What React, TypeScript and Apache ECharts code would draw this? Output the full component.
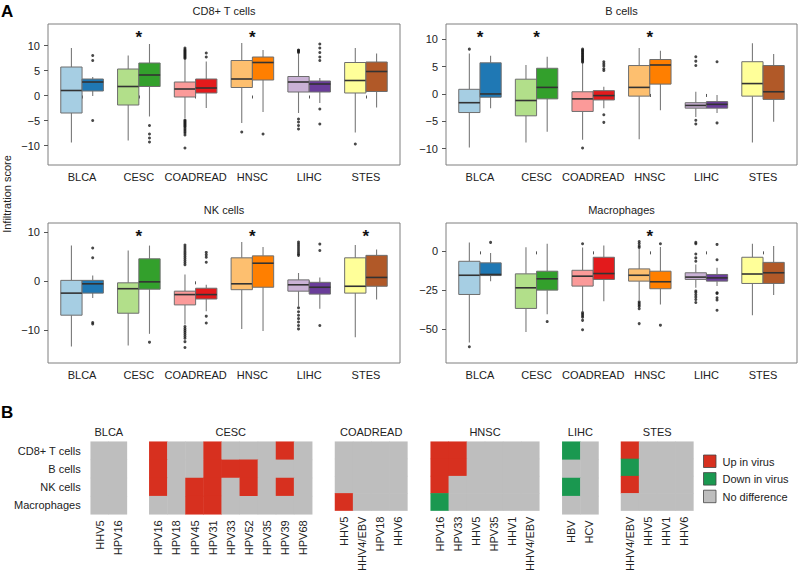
import React, { useEffect, useRef } from "react";
import * as echarts from "echarts";

const cancerTypes = ["BLCA", "CESC", "COADREAD", "HNSC", "LIHC", "STES"];
const negColors = ["#A6CEE3", "#B2DF8A", "#FB9A99", "#FDBF6F", "#CAB2D6", "#FFFF99"];
const posColors = ["#1F78B4", "#33A02C", "#E31A1C", "#FF7F00", "#6A3D9A", "#B15928"];

// box stats: [lowWhisker, Q1, median, Q3, highWhisker]
const cd8Neg = [
  [-9.4, -3.5, 1.0, 5.7, 9.5],
  [-9.0, -1.9, 1.8, 5.3, 8.0],
  [-4.5, -0.3, 1.3, 2.7, 7.1],
  [-5.5, 1.6, 3.3, 7.0, 10.5],
  [-3.5, 0.7, 2.7, 3.8, 8.3],
  [-7.4, 0.5, 3.0, 6.6, 9.5],
];
const cd8Pos = [
  [-0.1, 0.9, 2.7, 3.3, 3.7],
  [-4.2, 1.8, 4.1, 6.5, 10.3],
  [-2.5, 0.5, 1.5, 3.3, 6.8],
  [-3.3, 3.1, 6.6, 7.7, 9.1],
  [-1.5, 0.7, 2.3, 2.9, 3.5],
  [-2.4, 0.8, 4.8, 6.7, 8.4],
];
const cd8NegOut = [
  [],
  [],
  [7.4, 7.6, 7.8, 8.0, 8.2, 8.4, 8.6, 8.8, 9.0, 9.2, 9.5, -4.9, -5.1, -5.3, -5.5, -5.7, -5.9, -6.1, -6.3, -6.6, -6.9, -7.2, -7.5, -7.9, -10.5],
  [-7.3],
  [8.6, 8.8, 9.0, 9.1, -4.7, -5.3, -6.0, -6.7],
  [-9.7],
];
const cd8PosOut = [
  [8.0, 7.0, -5.0],
  [-6.0, -7.7, -8.5, -9.3],
  [8.5, 7.7],
  [-7.7],
  [10.3, 9.5, 8.6, 7.7, 7.0, -2.7, -5.7],
  [],
];

const bNeg = [
  [-9.8, -3.4, -1.6, 0.85, 7.4],
  [-8.9, -4.0, -1.2, 2.7, 5.3],
  [-8.4, -3.2, -0.9, 0.4, 5.6],
  [-8.3, -0.4, 1.2, 5.2, 8.4],
  [-4.2, -2.6, -2.1, -1.6, 0.4],
  [-8.9, -0.4, 1.9, 5.9, 9.3],
];
const bPos = [
  [-2.6, -0.6, 0.0, 5.7, 7.0],
  [-6.9, -0.9, 1.2, 4.7, 6.8],
  [-2.6, -1.1, -0.3, 0.6, 1.3],
  [-3.0, 1.8, 5.3, 6.3, 7.9],
  [-3.5, -2.6, -1.9, -1.4, -0.2],
  [-5.1, -1.0, 0.4, 5.2, 7.3],
];
const bNegOut = [
  [8.2],
  [],
  [5.8, 6.0, 6.2, 6.4, 6.6, 6.8, 7.0, 7.2, 7.4, 7.6, 7.8, 8.0, 8.2, -9.9],
  [],
  [6.8, 6.0, 5.2, -4.8, -5.5],
  [],
];
const bPosOut = [
  [],
  [],
  [5.9, 5.5, 5.1, 4.6, 4.3, -3.8, -5.2],
  [],
  [5.9, -5.3],
  [],
];

const nkNeg = [
  [-13.3, -6.9, -2.4, 0.2, 7.3],
  [-13.1, -6.5, -1.5, -0.3, 6.3],
  [-8.8, -4.8, -2.7, -2.0, 1.4],
  [-9.7, -1.7, -0.5, 4.8, 8.0],
  [-5.1, -2.0, -0.7, 0.3, 1.7],
  [-11.4, -2.4, -1.0, 4.8, 7.4],
];
const nkPos = [
  [-3.4, -2.4, -0.5, 0.2, 1.2],
  [-10.7, -1.6, -0.1, 4.6, 7.3],
  [-6.1, -3.6, -2.7, -1.4, -0.7],
  [-10.1, -1.2, 3.7, 5.2, 7.0],
  [-5.6, -2.6, -1.2, -0.2, 0.8],
  [-3.7, -1.0, 0.8, 5.3, 6.5],
];
const nkNegOut = [
  [],
  [],
  [3.4, 3.8, 4.2, 4.6, 5.0, 5.4, 5.8, 6.2, 6.6, 7.0, 7.4, -9.2, -9.6, -10.0, -10.4, -10.8, -11.2, -11.6, -12.3, -13.5],
  [],
  [8.0, 7.6, 7.2, 6.8, 6.4, 6.0, 5.6, 5.3, -5.4, -6.2, -6.9, -7.6, -8.3, -9.0, -9.7],
  [],
];
const nkPosOut = [
  [6.8, 4.8, -8.4, -8.7],
  [-12.4],
  [5.9, 5.4, 4.9, 3.9, -7.1, -8.5],
  [],
  [7.6, 6.3, -9.0],
  [],
];

const macNeg = [
  [-58.7, -27.8, -15.4, -6.4, 5.8],
  [-52.0, -36.8, -23.5, -14.5, 2.6],
  [-38.5, -22.4, -16.0, -12.2, 2.5],
  [-31.4, -19.2, -15.4, -11.3, 1.5],
  [-23.5, -18.1, -16.6, -13.8, -8.5],
  [-41.2, -20.7, -14.6, -3.8, 4.9],
];
const macPos = [
  [-19.2, -15.6, -14.9, -7.4, -1.1],
  [-40.6, -25.0, -17.7, -12.8, 4.9],
  [-32.1, -18.1, -14.3, -3.8, 3.8],
  [-34.2, -24.1, -19.6, -12.8, 2.8],
  [-22.4, -19.2, -17.1, -14.9, -10.6],
  [-28.2, -20.7, -13.8, -7.1, 3.5],
];
const macNegOut = [
  [-61.5],
  [],
  [4.9, -39.5, -40.5, -41.5, -42.5, -44.5, -50.6],
  [6.4, 5.0, 3.5, 2.5, -32.5, -33.5, -34.5, -35.5, -37.0, -46.6],
  [5.8, 4.9, -1.7, -4.2, -6.4, -25.6, -26.5, -28.0, -29.5, -31.0, -33.0],
  [],
];
const macPosOut = [
  [5.8],
  [-45.3],
  [],
  [4.9, -47.6],
  [4.5, -5.4, -26.7, -27.1, -29.9, -31.4, -38.0],
  [],
];

const cd8Sig = ["CESC", "HNSC"];
const bSig = ["BLCA", "CESC", "HNSC"];
const nkSig = ["CESC", "HNSC", "STES"];
const macSig = ["HNSC"];

const cd8Ticks = [-10, -5, 0, 5, 10];
const bTicks = [-10, -5, 0, 5, 10];
const nkTicks = [-10, 0, 10];
const macTicks = [-50, -25, 0];

// heatmap (1 = up in virus, -1 = down in virus, 0 = no difference)
const cellRows = ["CD8+ T cells", "B cells", "NK cells", "Macrophages"];
const blcaViruses = ["HHV5", "HPV16"];
const blcaStatus = [[0, 0], [0, 0], [0, 0], [0, 0]];
const cescViruses = ["HPV16", "HPV18", "HPV45", "HPV31", "HPV33", "HPV52", "HPV35", "HPV39", "HPV68"];
const cescStatus = [
  [1, 0, 0, 1, 0, 0, 0, 1, 0],
  [1, 0, 0, 1, 1, 1, 0, 0, 0],
  [1, 0, 1, 1, 0, 1, 0, 1, 0],
  [0, 0, 1, 1, 0, 0, 0, 0, 0],
];
const coadreadViruses = ["HHV5", "HHV4/EBV", "HPV18", "HHV6"];
const coadreadStatus = [[0, 0, 0, 0], [0, 0, 0, 0], [0, 0, 0, 0], [1, 0, 0, 0]];
const hnscViruses = ["HPV16", "HPV33", "HHV5", "HPV35", "HHV1", "HHV4/EBV"];
const hnscStatus = [
  [1, 1, 0, 0, 0, 0],
  [1, 1, 0, 0, 0, 0],
  [1, 0, 0, 0, 0, 0],
  [-1, 0, 0, 0, 0, 0],
];
const lihcViruses = ["HBV", "HCV"];
const lihcStatus = [[-1, 0], [0, 0], [-1, 0], [0, 0]];
const stesViruses = ["HHV4/EBV", "HHV5", "HHV1", "HHV6"];
const stesStatus = [[1, 0, 0, 0], [-1, 0, 0, 0], [1, 0, 0, 0], [0, 0, 0, 0]];

const legendLabels = ["Up in virus", "Down in virus", "No difference"];
const UP = "#D7301F";
const DOWN = "#1A9850";
const NONE = "#BEBEBE";

const FONT = "'Liberation Sans', Arial, Helvetica, sans-serif";
const BOX_W = 0.375;
const TXT = "#222";

function fmtMinus(v: number) {
  return v < 0 ? "\u2212" + Math.abs(v) : String(v);
}

function buildOption() {
  const panels = [
    { title: "CD8+ T cells", neg: cd8Neg, pos: cd8Pos, negOut: cd8NegOut, posOut: cd8PosOut, sig: cd8Sig, ticks: cd8Ticks, range: [-13.9, 14.3], starY: 12.4 },
    { title: "B cells", neg: bNeg, pos: bPos, negOut: bNegOut, posOut: bPosOut, sig: bSig, ticks: bTicks, range: [-13.0, 12.8], starY: 11.0 },
    { title: "NK cells", neg: nkNeg, pos: nkPos, negOut: nkNegOut, posOut: nkPosOut, sig: nkSig, ticks: nkTicks, range: [-16.65, 11.9], starY: 10.0 },
    { title: "Macrophages", neg: macNeg, pos: macPos, negOut: macNegOut, posOut: macPosOut, sig: macSig, ticks: macTicks, range: [-72, 18.3], starY: 12.2 },
  ];
  const boxGrids = [
    { left: 48, top: 24, width: 352, height: 141 },
    { left: 446, top: 24, width: 351, height: 141 },
    { left: 48, top: 223, width: 352, height: 140 },
    { left: 446, top: 223, width: 351, height: 140 },
  ];

  const grid: any[] = [];
  const xAxis: any[] = [];
  const yAxis: any[] = [];
  const series: any[] = [];
  const graphic: any[] = [];

  const boxRender = (params: any, api: any) => {
    const x = api.value(0);
    const lo = api.value(1), q1 = api.value(2), med = api.value(3), q3 = api.value(4), hi = api.value(5);
    const ci = api.value(6);
    const isPos = api.value(7);
    const halfW = api.size([BOX_W, 0])[0] / 2;
    const pLo = api.coord([x, lo]);
    const pQ1 = api.coord([x, q1]);
    const pMed = api.coord([x, med]);
    const pQ3 = api.coord([x, q3]);
    const pHi = api.coord([x, hi]);
    const fill = (isPos ? posColors : negColors)[ci];
    return {
      type: "group",
      children: [
        { type: "line", shape: { x1: pHi[0], y1: pHi[1], x2: pQ3[0], y2: pQ3[1] }, style: { stroke: "#7a7a7a", lineWidth: 1.1 } },
        { type: "line", shape: { x1: pLo[0], y1: pLo[1], x2: pQ1[0], y2: pQ1[1] }, style: { stroke: "#7a7a7a", lineWidth: 1.1 } },
        { type: "rect", shape: { x: pQ3[0] - halfW, y: pQ3[1], width: halfW * 2, height: pQ1[1] - pQ3[1] }, style: { fill, stroke: "#6e6e6e", lineWidth: 1 } },
        { type: "line", shape: { x1: pMed[0] - halfW, y1: pMed[1], x2: pMed[0] + halfW, y2: pMed[1] }, style: { stroke: "#333", lineWidth: 1.6 } },
      ],
    };
  };
  const starRender = (params: any, api: any) => {
    const p = api.coord([api.value(0), api.value(1)]);
    return {
      type: "text",
      x: p[0],
      y: p[1] + 4,
      style: { text: "*", font: `bold 17px ${FONT}`, textAlign: "center", textVerticalAlign: "middle", fill: "#111" },
    };
  };

  panels.forEach((p, k) => {
    grid.push({ ...boxGrids[k], show: true, borderColor: "#7f7f7f", borderWidth: 1, containLabel: false });
    xAxis.push({
      gridIndex: k, type: "value", min: 0.4, max: 6.6,
      axisLine: { show: false }, splitLine: { show: false },
      axisTick: { show: true, customValues: [1, 2, 3, 4, 5, 6], length: 3, lineStyle: { color: "#555" } },
      axisLabel: { show: true, customValues: [1, 2, 3, 4, 5, 6], formatter: (v: number) => cancerTypes[Math.round(v) - 1], fontSize: 11, color: TXT, fontFamily: FONT, margin: 6 },
    });
    yAxis.push({
      gridIndex: k, type: "value", min: p.range[0], max: p.range[1],
      axisLine: { show: false }, splitLine: { show: false },
      axisTick: { show: true, customValues: p.ticks, length: 4, lineStyle: { color: "#555" } },
      axisLabel: { show: true, customValues: p.ticks, formatter: fmtMinus, fontSize: 11, color: TXT, fontFamily: FONT, margin: 8 },
    });
    const boxData: any[] = [];
    cancerTypes.forEach((c, i) => {
      boxData.push([i + 1 - BOX_W / 2, ...p.neg[i], i, 0]);
      boxData.push([i + 1 + BOX_W / 2, ...p.pos[i], i, 1]);
    });
    series.push({ type: "custom", xAxisIndex: k, yAxisIndex: k, data: boxData, encode: { x: 0, y: [1, 2, 3, 4, 5] }, renderItem: boxRender, silent: true, z: 2 });
    const outData: any[] = [];
    p.negOut.forEach((arr, i) => arr.forEach((v) => outData.push([i + 1 - BOX_W / 2, v])));
    p.posOut.forEach((arr, i) => arr.forEach((v) => outData.push([i + 1 + BOX_W / 2, v])));
    series.push({ type: "scatter", xAxisIndex: k, yAxisIndex: k, data: outData, symbolSize: 3, itemStyle: { color: "#1a1a1a" }, silent: true, z: 3 });
    series.push({ type: "custom", xAxisIndex: k, yAxisIndex: k, data: p.sig.map((c) => [cancerTypes.indexOf(c) + 1, p.starY]), renderItem: starRender, silent: true, z: 4 });

    const g = boxGrids[k];
    graphic.push({ type: "text", x: g.left + g.width / 2, y: g.top - 13, style: { text: p.title, font: `11px ${FONT}`, fill: TXT, textAlign: "center", textVerticalAlign: "middle" } });
  });

  // heatmaps
  const CELL_W = 18.1;
  const HM_TOP = 441.7;
  const HM_H = 72.6;
  const hmGroups = [
    { name: "BLCA", left: 90.7, viruses: blcaViruses, status: blcaStatus },
    { name: "CESC", left: 149.3, viruses: cescViruses, status: cescStatus },
    { name: "COADREAD", left: 335, viruses: coadreadViruses, status: coadreadStatus },
    { name: "HNSC", left: 430.7, viruses: hnscViruses, status: hnscStatus },
    { name: "LIHC", left: 562.3, viruses: lihcViruses, status: lihcStatus },
    { name: "STES", left: 621, viruses: stesViruses, status: stesStatus },
  ];
  const hmSeriesIdx: number[] = [];
  hmGroups.forEach((g, j) => {
    const gi = 4 + j;
    const w = g.viruses.length * CELL_W;
    grid.push({ left: g.left, top: HM_TOP, width: w, height: HM_H, show: false });
    xAxis.push({
      gridIndex: gi, type: "category", data: g.viruses,
      axisLine: { show: false }, axisTick: { show: false }, splitLine: { show: false },
      axisLabel: { rotate: 90, interval: 0, fontSize: 11, color: TXT, fontFamily: FONT, margin: 6 },
    });
    yAxis.push({
      gridIndex: gi, type: "category", data: cellRows, inverse: true,
      axisLine: { show: false }, axisTick: { show: false }, splitLine: { show: false },
      axisLabel: { show: j === 0, interval: 0, fontSize: 11, color: TXT, fontFamily: FONT, margin: 10 },
    });
    const data: any[] = [];
    g.status.forEach((row, r) => row.forEach((v, c) => data.push([c, r, v])));
    hmSeriesIdx.push(series.length);
    series.push({ type: "heatmap", xAxisIndex: gi, yAxisIndex: gi, data, itemStyle: { borderWidth: 0 }, emphasis: { disabled: true }, silent: true });
    graphic.push({ type: "text", x: g.left + w / 2, y: 431.7, style: { text: g.name, font: `11px ${FONT}`, fill: TXT, textAlign: "center", textVerticalAlign: "middle" } });
  });

  // legend
  const legColors = [UP, DOWN, NONE];
  legendLabels.forEach((lab, i) => {
    const y = 455 + i * 17.6;
    graphic.push({ type: "rect", shape: { x: 703.5, y, width: 12.5, height: 12.5 }, style: { fill: legColors[i], stroke: "#444", lineWidth: 0.8 } });
    graphic.push({ type: "text", x: 722.5, y: y + 6.5, style: { text: lab, font: `11px ${FONT}`, fill: TXT, textAlign: "left", textVerticalAlign: "middle" } });
  });

  // panel letters & y name
  graphic.push({ type: "text", x: 1, y: 11, style: { text: "A", font: `bold 17px ${FONT}`, fill: "#000", textAlign: "left", textVerticalAlign: "middle" } });
  graphic.push({ type: "text", x: 1, y: 412, style: { text: "B", font: `bold 17px ${FONT}`, fill: "#000", textAlign: "left", textVerticalAlign: "middle" } });
  graphic.push({ type: "text", x: 7, y: 194, rotation: Math.PI / 2, style: { text: "Infiltration score", font: `11px ${FONT}`, fill: TXT, textAlign: "center", textVerticalAlign: "middle" } });

  return {
    animation: false,
    backgroundColor: "#fff",
    grid,
    xAxis,
    yAxis,
    series,
    graphic,
    visualMap: {
      type: "piecewise", show: false, dimension: 2, seriesIndex: hmSeriesIdx,
      pieces: [
        { value: 1, color: UP },
        { value: -1, color: DOWN },
        { value: 0, color: NONE },
      ],
    },
  };
}

export default function App() {
  const ref = useRef<HTMLDivElement>(null);
  useEffect(() => {
    const chart = echarts.init(ref.current!, null, { renderer: "svg" });
    chart.setOption(buildOption() as any);
    return () => chart.dispose();
  }, []);
  return <div ref={ref} style={{ position: "fixed", left: 0, top: 0, width: 800, height: 574, background: "#fff" }} />;
}
